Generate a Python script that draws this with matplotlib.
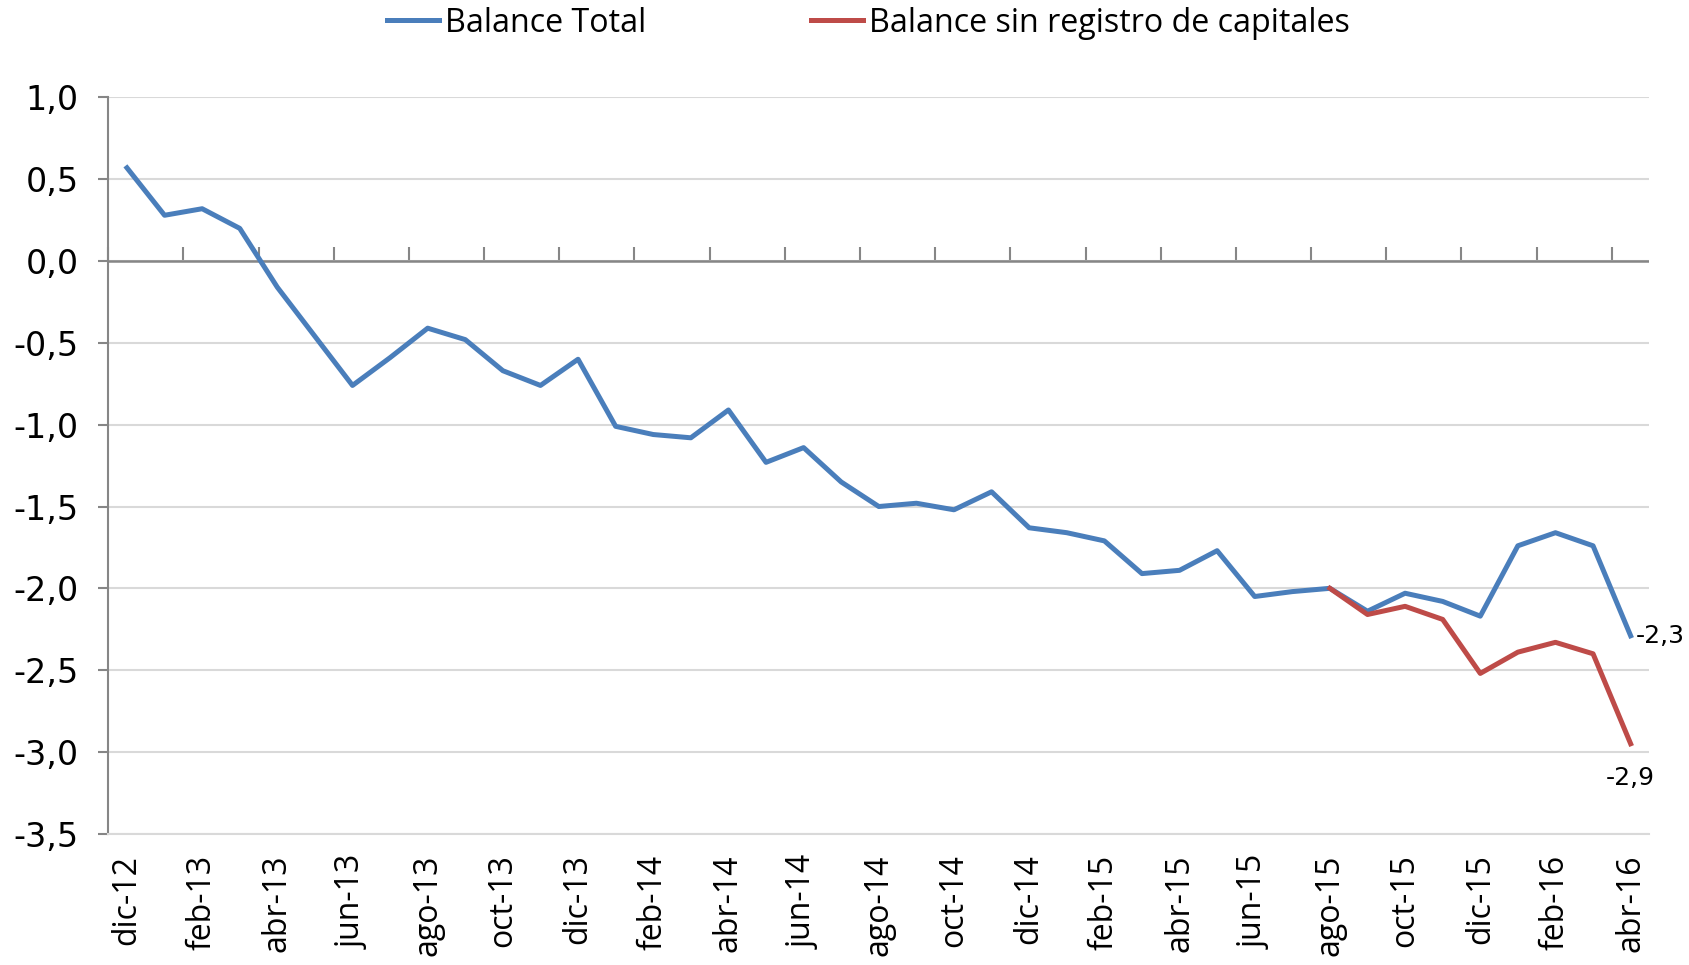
import matplotlib.pyplot as plt
from matplotlib.ticker import FuncFormatter, FixedLocator, NullFormatter
import numpy as np

# meses dic-12 .. abr-16
meses = ['dic-12', 'ene-13', 'feb-13', 'mar-13', 'abr-13', 'may-13', 'jun-13', 'jul-13',
         'ago-13', 'sep-13', 'oct-13', 'nov-13', 'dic-13', 'ene-14', 'feb-14', 'mar-14',
         'abr-14', 'may-14', 'jun-14', 'jul-14', 'ago-14', 'sep-14', 'oct-14', 'nov-14',
         'dic-14', 'ene-15', 'feb-15', 'mar-15', 'abr-15', 'may-15', 'jun-15', 'jul-15',
         'ago-15', 'sep-15', 'oct-15', 'nov-15', 'dic-15', 'ene-16', 'feb-16', 'mar-16',
         'abr-16']

balance_total = [0.57, 0.28, 0.32, 0.20, -0.16, -0.46, -0.76, -0.59,
                 -0.41, -0.48, -0.67, -0.76, -0.60, -1.01, -1.06, -1.08,
                 -0.91, -1.23, -1.14, -1.35, -1.50, -1.48, -1.52, -1.41,
                 -1.63, -1.66, -1.71, -1.91, -1.89, -1.77, -2.05, -2.02,
                 -2.00, -2.14, -2.03, -2.08, -2.17, -1.74, -1.66, -1.74,
                 -2.29]

# serie roja empieza en ago-15
inicio_sin_registro = 32
balance_sin_registro = [-2.00, -2.16, -2.11, -2.19, -2.52, -2.39, -2.33, -2.40, -2.95]

label_total = '-2,3'
label_sin = '-2,9'

azul = '#4A7EBB'
rojo = '#BE4B48'
gris = '#868686'
narrow = ['Liberation Sans Narrow', 'DejaVu Sans']

plt.rcParams['font.family'] = ['Open Sans', 'DejaVu Sans']

fig = plt.figure(figsize=(16.9, 9.65), dpi=100)
ax = fig.add_axes([0.064, 0.136, 0.912, 0.763])

x = np.arange(len(meses))
x_rojo = x[inicio_sin_registro:]

l1, = ax.plot(x, balance_total, color=azul, lw=3.6, solid_joinstyle='round', zorder=3)
l2, = ax.plot(x_rojo, balance_sin_registro, color=rojo, lw=3.6, solid_joinstyle='round', zorder=4)

ymin, ymax = -3.5, 1.0
ax.set_ylim(ymin, ymax)
ax.set_xlim(-0.5, len(meses) - 0.5)
ax.set_yticks(np.arange(ymin, ymax + 0.01, 0.5))
ax.yaxis.set_major_formatter(FuncFormatter(lambda v, p: f'{v:.1f}'.replace('.', ',')))
ax.grid(axis='y', color='#D9D9D9', lw=1.5)
ax.set_axisbelow(True)

for s in ['top', 'right']:
    ax.spines[s].set_visible(False)
ax.spines['left'].set_color(gris)
ax.spines['left'].set_linewidth(1.5)
ax.spines['bottom'].set_color('#D9D9D9')
ax.spines['bottom'].set_linewidth(1.5)

ax.tick_params(axis='y', length=7, width=1.5, color=gris, pad=14,
               labelsize=24, labelfontfamily=narrow)

# etiquetas cada 2 meses abajo
ax.set_xticks(x[::2])
ax.set_xticklabels(meses[::2], rotation=90, fontsize=23)
ax.tick_params(axis='x', length=0, pad=15)

# eje de categorias en cero con marcas entre categorias
pos0 = (0 - ymin) / (ymax - ymin)
ax.axhline(0, color=gris, lw=1.8, zorder=2)
sec = ax.secondary_xaxis(pos0)
sec.spines['bottom'].set_visible(False)
sec.spines['top'].set_visible(False)
sec.xaxis.set_major_locator(FixedLocator(np.arange(-0.5, len(meses), 2)))
sec.xaxis.set_major_formatter(NullFormatter())
sec.tick_params(axis='x', length=10, width=1.5, color=gris, direction='out')

ax.annotate(label_total, (x[-1], balance_total[-1]), xytext=(4, 0), textcoords='offset points',
            ha='left', va='center', fontsize=18, family=narrow)
ax.annotate(label_sin, (x_rojo[-1], balance_sin_registro[-1]), xytext=(0, -16),
            textcoords='offset points', ha='center', va='top', fontsize=18, family=narrow)

fig.legend([l1, l2], ['Balance Total', 'Balance sin registro de capitales'],
           loc='center', bbox_to_anchor=(0.514, 0.976), ncol=2, frameon=False,
           fontsize=23.2, handlelength=1.6, handletextpad=0.2, columnspacing=5.1)

fig.savefig('out.png', dpi=100)
